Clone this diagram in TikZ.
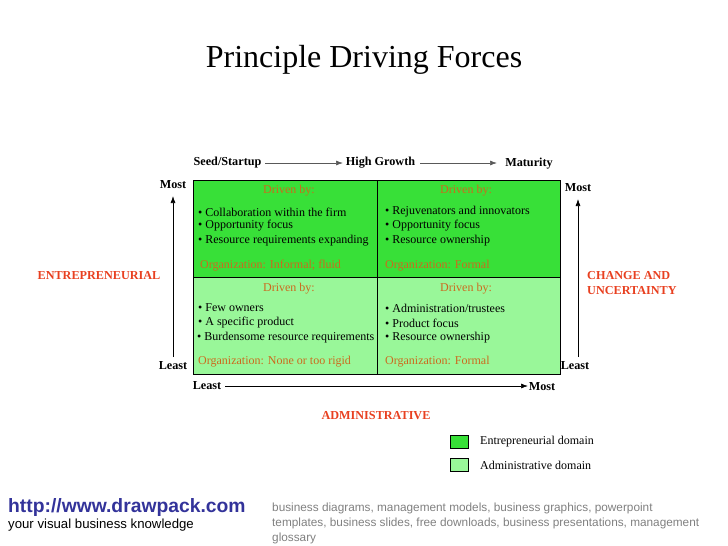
\documentclass[tikz,border=0pt]{standalone}
\usepackage{fontspec}
\usetikzlibrary{arrows.meta}
\setmainfont{Liberation Serif}
\newfontfamily\arialf{Liberation Sans}
\definecolor{dg}{HTML}{38E038}
\definecolor{lg}{HTML}{99F799}
\definecolor{org}{HTML}{CC6A1E}
\definecolor{redl}{HTML}{E84020}
\definecolor{linkb}{HTML}{33339A}
\begin{document}
\begin{tikzpicture}[x=1pt,y=-1pt,
  txt/.style={font=\fontsize{12}{14}\selectfont,inner sep=0pt,anchor=west},
  otxt/.style={txt,text=org},
  hd/.style={font=\fontsize{12}{14}\selectfont,text=org,inner sep=0pt},
  ax/.style={font=\bfseries\fontsize{12.2}{14}\selectfont,inner sep=0pt},
  rl/.style={font=\bfseries\fontsize{12.2}{14}\selectfont,text=redl,inner sep=0pt},
  arr/.style={-{Latex[length=7pt,width=5pt]},line width=0.7pt},
  grey/.style={font=\arialf\fontsize{11.8}{14}\selectfont,text=gray,inner sep=0pt,anchor=west}]
\useasboundingbox (0,0) rectangle (728,546);
\node[font=\fontsize{32}{36}\selectfont,inner sep=0pt] (title) at (364,60) {Principle Driving Forces};
% cells
\fill[dg] (193,180) rectangle (560,277);
\fill[lg] (193,277) rectangle (560,374);
\draw (193,180) rectangle (560,374);
\draw (193,277) -- (560,277);
\draw (377,180) -- (377,374);
% top axis
\node[ax] (seed) at (227.5,163) {Seed/Startup};
\node[ax] (hg) at (380.5,163) {High Growth};
\node[ax] (mat) at (529,164) {Maturity};
\coordinate (t1) at (265,163); \coordinate (t2) at (343,163);
\coordinate (t3) at (420,163); \coordinate (t4) at (497,163);
\draw[arr,gray!70!black] (t1) -- (t2);
\draw[arr,gray!70!black] (t3) -- (t4);
% left axis
\node[ax] (lmost) at (173,185) {Most};
\node[ax] (lleast) at (173,366) {Least};
\coordinate (l0) at (173,357); \coordinate (l1) at (173,196);
\draw[arr] (l0) -- (l1);
\node[ax] (rmost) at (578,188) {Most};
\node[ax] (rleast) at (575,366) {Least};
\coordinate (r0) at (578,357); \coordinate (r1) at (578,199);
\draw[arr] (r0) -- (r1);
% bottom
\node[ax] (bleast) at (207,386) {Least};
\node[ax] (bmost) at (542,387) {Most};
\coordinate (b0) at (225,386); \coordinate (b1) at (528,386);
\draw[arr] (b0) -- (b1);
\node[rl] (ent) at (99,276) {ENTREPRENEURIAL};
\node[rl,align=left,anchor=west] (chg) at (587,283.5) {CHANGE AND\\[1pt]UNCERTAINTY};
\node[rl] (adm) at (376,416) {ADMINISTRATIVE};
% cell texts
\node[hd] (h1) at (289,191) {Driven by:};
\node[hd] (h2) at (466,191) {Driven by:};
\node[hd] (h3) at (289,289) {Driven by:};
\node[hd] (h4) at (466,289) {Driven by:};
\node[txt] (a1) at (198,212) {\textbullet\ Collaboration within the firm};
\node[txt] (a2) at (198,226) {\textbullet\ Opportunity focus};
\node[txt] (a3) at (198,241) {\textbullet\ Resource requirements expanding};
\node[otxt] (a4) at (200,266) {Organization: Informal; fluid};
\node[txt] (b1) at (385,212) {\textbullet\ Rejuvenators and innovators};
\node[txt] (b2) at (385,226) {\textbullet\ Opportunity focus};
\node[txt] (b3) at (385,241) {\textbullet\ Resource ownership};
\node[otxt] (b4) at (385,266) {Organization: Formal};
\node[txt] (c1) at (198,308) {\textbullet\ Few owners};
\node[txt] (c2) at (198,323) {\textbullet\ A specific product};
\node[txt] (c3) at (197,338) {\textbullet\ Burdensome resource requirements};
\node[otxt] (c4) at (198,362) {Organization: None or too rigid};
\node[txt] (d1) at (385,308) {\textbullet\ Administration/trustees};
\node[txt] (d2) at (385,323) {\textbullet\ Product focus};
\node[txt] (d3) at (385,338) {\textbullet\ Resource ownership};
\node[otxt] (d4) at (385,362) {Organization: Formal};
% legend
\draw[fill=dg] (450,435) rectangle (468,448);
\draw[fill=lg] (450,458) rectangle (468,471);
\node[txt] (l1) at (480,442) {Entrepreneurial domain};
\node[txt] (l2) at (480,465) {Administrative domain};
% footer
\node[font=\arialf\bfseries\fontsize{19.3}{21}\selectfont,text=linkb,inner sep=0pt,anchor=west] (url) at (8,508) {http://www.drawpack.com};
\node[font=\arialf\fontsize{13.2}{15}\selectfont,inner sep=0pt,anchor=west] (yv) at (8,525) {your visual business knowledge};
\node[grey] (g1) at (272,508) {business diagrams, management models, business graphics, powerpoint};
\node[grey] (g2) at (272,523) {templates, business slides, free downloads, business presentations, management};
\node[grey] (g3) at (272,538) {glossary};
\end{tikzpicture}
\end{document}
